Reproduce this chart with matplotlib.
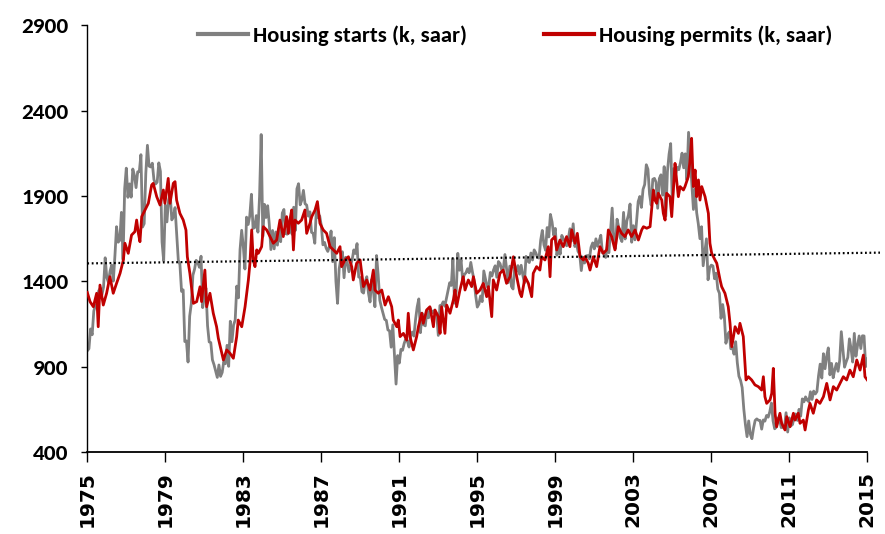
import matplotlib
matplotlib.use("Agg")
import matplotlib.pyplot as plt
from matplotlib import font_manager
from matplotlib.font_manager import FontProperties
from matplotlib.textpath import TextPath
import numpy as np
import os

# ---------------- data ----------------
# Housing starts (k, saar), monthly, first point plotted at the 1975 axis position
starts_k = [
    993, 1005, 1121, 1087, 1226, 1260, 1264, 1344, 1360, 1321,
    1367, 1538, 1421, 1395, 1459, 1495, 1401, 1550, 1720, 1629, 1641, 1804,
    1527, 1943, 2063, 1892, 1971, 1893, 2058, 2020, 1949, 2042, 2042, 2142,
    1718, 1738, 2032, 2197, 2075, 2070, 2092, 1996, 1970, 1981, 2094, 2044,
    1630, 1520, 1847, 1748, 1876, 1913, 1760, 1778, 1832, 1681, 1524, 1498,
    1341, 1350, 1047, 1051, 927, 1196, 1269, 1436, 1471, 1523, 1510, 1482,
    1547, 1246, 1306, 1360, 1140, 1045, 1041, 940, 911, 873, 837, 910,
    843, 866, 931, 917, 1025, 902, 1166, 1046, 1144, 1173, 1372, 1303,
    1586, 1699, 1606, 1472, 1776, 1733, 1785, 1910, 1710, 1715, 1785, 1688,
    1897, 2260, 1663, 1851, 1774, 1843, 1732, 1586, 1698, 1590, 1689, 1612,
    1711, 1632, 1800, 1821, 1680, 1676, 1684, 1743, 1676, 1834, 1698, 1942,
    1972, 1848, 1876, 1933, 1854, 1847, 1782, 1807, 1687, 1681, 1623, 1833,
    1774, 1784, 1726, 1614, 1628, 1594, 1575, 1605, 1695, 1515, 1656, 1400,
    1271, 1473, 1532, 1573, 1421, 1541, 1509, 1456, 1492, 1528, 1584, 1563,
    1621, 1425, 1422, 1339, 1331, 1397, 1427, 1332, 1279, 1410, 1351, 1251,
    1551, 1437, 1289, 1248, 1212, 1177, 1171, 1115, 1110, 1014, 1145, 969,
    798, 965, 921, 1001, 996, 1036, 1063, 1049, 1015, 1079, 1103, 1079,
    1176, 1250, 1297, 1099, 1214, 1145, 1139, 1226, 1186, 1244, 1214, 1227,
    1210, 1210, 1083, 1258, 1260, 1280, 1254, 1300, 1343, 1392, 1376, 1533,
    1272, 1337, 1564, 1465, 1526, 1409, 1439, 1450, 1474, 1450, 1511, 1455,
    1407, 1316, 1249, 1267, 1314, 1281, 1461, 1416, 1369, 1369, 1452, 1431,
    1467, 1491, 1424, 1516, 1504, 1467, 1472, 1557, 1475, 1392, 1489, 1370,
    1355, 1486, 1457, 1492, 1442, 1494, 1437, 1390, 1546, 1520, 1510, 1566,
    1525, 1584, 1567, 1540, 1536, 1641, 1698, 1614, 1582, 1715, 1660, 1792,
    1748, 1670, 1710, 1553, 1611, 1559, 1669, 1648, 1635, 1608, 1648, 1708,
    1636, 1737, 1604, 1626, 1575, 1559, 1463, 1541, 1507, 1549, 1551, 1532,
    1600, 1625, 1590, 1649, 1605, 1636, 1670, 1567, 1562, 1540, 1602, 1568,
    1698, 1829, 1642, 1592, 1764, 1717, 1655, 1633, 1804, 1648, 1753, 1788,
    1853, 1629, 1726, 1643, 1751, 1867, 1897, 1833, 1939, 1967, 2083, 2057,
    1911, 1846, 1998, 2003, 1981, 1828, 2002, 2024, 1905, 2072, 1782, 2042,
    2144, 2207, 1864, 2061, 2025, 2068, 2054, 2095, 2151, 2065, 2147, 1994,
    2273, 2119, 1969, 1821, 1942, 1802, 1737, 1650, 1720, 1491, 1570, 1649,
    1409, 1480, 1495, 1490, 1415, 1448, 1354, 1330, 1183, 1264, 1197, 1037,
    1084, 1103, 1005, 1013, 973, 1046, 923, 844, 820, 777, 652, 560,
    490, 582, 505, 478, 540, 585, 594, 586, 585, 534, 588, 581,
    614, 604, 636, 687, 583, 536, 546, 599, 594, 543, 545, 539,
    630, 517, 600, 554, 561, 608, 623, 585, 650, 610, 711, 694,
    723, 704, 695, 753, 708, 757, 740, 754, 847, 915, 833, 976,
    888, 962, 1010, 852, 919, 835, 883, 919, 873, 936, 1105, 1003,
    897, 928, 954, 1063, 1006, 927, 1095, 961, 1024, 1080, 1006, 1081,
    1080, 900, 944,
]
starts_x0 = 1975.0   # axis position of the first monthly value

# Housing permits (k, saar) as (axis year, value)
permits_year = [
    1975.00, 1975.14, 1975.31, 1975.48, 1975.56, 1975.65, 1975.82, 1975.99,
    1976.16, 1976.33, 1976.50, 1976.68, 1976.85, 1976.93, 1977.10, 1977.27,
    1977.44, 1977.53, 1977.62, 1977.70, 1977.79, 1977.96, 1978.13, 1978.30,
    1978.38, 1978.56, 1978.73, 1978.90, 1978.98, 1979.15, 1979.24, 1979.41,
    1979.50, 1979.58, 1979.75, 1979.92, 1980.06, 1980.13, 1980.26, 1980.44,
    1980.61, 1980.78, 1980.86, 1981.03, 1981.12, 1981.29, 1981.46, 1981.63,
    1981.72, 1981.98, 1982.15, 1982.32, 1982.49, 1982.66, 1982.74, 1982.92,
    1983.09, 1983.26, 1983.34, 1983.43, 1983.51, 1983.60, 1983.69, 1983.77,
    1983.94, 1984.03, 1984.20, 1984.37, 1984.54, 1984.71, 1984.88, 1985.05,
    1985.22, 1985.31, 1985.39, 1985.48, 1985.57, 1985.65, 1985.82, 1985.99,
    1986.16, 1986.25, 1986.42, 1986.51, 1986.68, 1986.80, 1986.93, 1987.10,
    1987.27, 1987.45, 1987.62, 1987.79, 1987.96, 1988.04, 1988.21, 1988.39,
    1988.56, 1988.64, 1988.81, 1988.99, 1989.16, 1989.33, 1989.50, 1989.67,
    1989.75, 1989.92, 1990.10, 1990.27, 1990.44, 1990.61, 1990.69, 1990.87,
    1990.95, 1991.04, 1991.21, 1991.38, 1991.46, 1991.55, 1991.72, 1991.89,
    1991.98, 1992.15, 1992.23, 1992.40, 1992.57, 1992.75, 1992.83, 1993.00,
    1993.09, 1993.17, 1993.34, 1993.43, 1993.60, 1993.77, 1993.86, 1993.94,
    1994.11, 1994.28, 1994.37, 1994.54, 1994.71, 1994.80, 1994.97, 1995.14,
    1995.31, 1995.48, 1995.57, 1995.74, 1995.82, 1995.99, 1996.16, 1996.33,
    1996.50, 1996.68, 1996.85, 1997.02, 1997.19, 1997.27, 1997.45, 1997.62,
    1997.79, 1997.87, 1998.04, 1998.21, 1998.30, 1998.47, 1998.64, 1998.73,
    1998.81, 1998.98, 1999.07, 1999.24, 1999.41, 1999.58, 1999.75, 1999.84,
    2000.01, 2000.13, 2000.27, 2000.44, 2000.52, 2000.69, 2000.78, 2000.95,
    2001.12, 2001.29, 2001.46, 2001.63, 2001.72, 2001.89, 2002.06, 2002.23,
    2002.40, 2002.57, 2002.74, 2002.91, 2003.09, 2003.26, 2003.43, 2003.52,
    2003.69, 2003.86, 2004.03, 2004.11, 2004.20, 2004.28, 2004.46, 2004.54,
    2004.63, 2004.71, 2004.88, 2004.97, 2005.14, 2005.22, 2005.31, 2005.40,
    2005.57, 2005.65, 2005.82, 2005.91, 2005.99, 2006.08, 2006.17, 2006.25,
    2006.34, 2006.42, 2006.51, 2006.68, 2006.85, 2006.93, 2007.02, 2007.19,
    2007.28, 2007.45, 2007.53, 2007.70, 2007.87, 2007.96, 2008.05, 2008.22,
    2008.39, 2008.47, 2008.64, 2008.78, 2008.90, 2009.07, 2009.24, 2009.41,
    2009.58, 2009.67, 2009.75, 2009.84, 2010.01, 2010.10, 2010.18, 2010.27,
    2010.35, 2010.52, 2010.61, 2010.78, 2010.87, 2011.04, 2011.21, 2011.29,
    2011.46, 2011.55, 2011.72, 2011.81, 2011.98, 2012.06, 2012.23, 2012.40,
    2012.57, 2012.75, 2012.92, 2013.09, 2013.26, 2013.43, 2013.60, 2013.77,
    2013.94, 2014.11, 2014.28, 2014.46, 2014.63, 2014.80, 2014.88, 2015.00,
]
permits_k = [
    1335, 1281, 1251, 1330, 1134, 1378, 1261, 1330,
    1427, 1330, 1388, 1447, 1525, 1623, 1564, 1671,
    1691, 1759, 1681, 1632, 1779, 1818, 1857, 1964,
    1974, 1896, 1847, 1935, 1857, 2003, 1857, 1974,
    1984, 1876, 1798, 1759, 1700, 1544, 1447, 1271,
    1281, 1368, 1281, 1466, 1251, 1330, 1213, 1134,
    1066, 939, 998, 978, 949, 1076, 1173, 1134,
    1251, 1408, 1506, 1701, 1525, 1486, 1584, 1564,
    1603, 1720, 1701, 1662, 1623, 1642, 1759, 1662,
    1779, 1681, 1759, 1818, 1584, 1759, 1740, 1759,
    1818, 1681, 1740, 1779, 1818, 1867, 1740, 1701,
    1681, 1603, 1584, 1564, 1603, 1486, 1525, 1544,
    1486, 1408, 1506, 1525, 1369, 1408, 1349, 1466,
    1349, 1330, 1349, 1261, 1310, 1251, 1173, 1134,
    1173, 1076, 1095, 1056, 1213, 1076, 998, 1076,
    1134, 1213, 1154, 1232, 1251, 1134, 1232, 1193,
    1095, 1251, 1095, 1261, 1213, 1290, 1349, 1251,
    1349, 1427, 1349, 1408, 1369, 1427, 1330, 1349,
    1388, 1310, 1369, 1193, 1408, 1349, 1447, 1466,
    1388, 1427, 1544, 1427, 1330, 1310, 1427, 1388,
    1310, 1447, 1486, 1466, 1544, 1525, 1603, 1427,
    1642, 1662, 1584, 1642, 1603, 1662, 1603, 1701,
    1623, 1681, 1544, 1525, 1544, 1506, 1466, 1544,
    1486, 1603, 1564, 1584, 1701, 1662, 1584, 1720,
    1681, 1662, 1701, 1662, 1701, 1642, 1701, 1720,
    1711, 1720, 1935, 1876, 1857, 1916, 1876, 1798,
    1759, 1916, 1896, 1779, 2091, 1994, 1896, 1955,
    1935, 1955, 2013, 2111, 2238, 1955, 2052, 1896,
    1994, 1876, 1955, 1896, 1798, 1623, 1564, 1525,
    1506, 1408, 1369, 1330, 1251, 1154, 1017, 1134,
    1095, 1154, 1076, 822, 841, 822, 793, 783,
    763, 841, 724, 685, 705, 744, 890, 627,
    548, 627, 568, 529, 607, 548, 627, 587,
    627, 568, 587, 529, 646, 685, 627, 705,
    685, 724, 802, 705, 783, 763, 802, 841,
    822, 880, 841, 939, 880, 968, 841, 822,
]

# Dotted reference line: endpoints
trend_year = [1975.0, 2015.65]
trend_k = [1505, 1568]

tick_years = [1975, 1979, 1983, 1987, 1991, 1995, 1999, 2003, 2007, 2011, 2015]
y_ticks = [400, 900, 1400, 1900, 2400, 2900]

labels = ["Housing starts (k, saar)", "Housing permits (k, saar)"]
gray = "#808080"
red = "#C00000"

# ---------------- fonts: a narrow humanist bold face ----------------
def find_font():
    files = [f.fname for f in font_manager.fontManager.ttflist]
    prefs = ["Carlito-Bold.", "FiraSansCondensed-Bold.", "BarlowSemiCondensed-Bold.",
             "AsapCondensed-Bold.", "DejaVuSansCondensed-Bold."]
    for p in prefs:
        for fn in files:
            if os.path.basename(fn).startswith(p):
                return FontProperties(fname=fn)
    return FontProperties(family="DejaVu Sans", weight="bold")

base_fp = find_font()

def size_for_width(text, target_px):
    w = TextPath((0, 0), text, size=100, prop=base_fp).get_extents().width  # points at size 100
    return 100 * (target_px * 0.72) / w

ytick_size = size_for_width("2900", 46)
leg_size = size_for_width(labels[0], 212)

# ---------------- plot ----------------
fig = plt.figure(figsize=(8.85, 5.34), dpi=100)
ax = fig.add_axes([87.3 / 885, 1 - 452 / 534, (867.3 - 87.3) / 885, (452 - 25.3) / 534])

sx = starts_x0 + np.arange(len(starts_k)) / 12.0
ax.plot(sx, starts_k, color=gray, lw=2.0, label=labels[0], zorder=2, solid_joinstyle="round")
ax.plot(permits_year, permits_k, color=red, lw=2.0, label=labels[1], zorder=3, solid_joinstyle="round")
ax.plot(trend_year, trend_k, color="black", lw=1.6, linestyle=(0, (0.8, 1.2)),
        zorder=4, clip_on=False)

ax.set_xlim(1975, 2015)
ax.set_ylim(400, 2900)
ax.set_xticks(tick_years)
ax.set_xticklabels([str(y) for y in tick_years], rotation=90, fontfamily="DejaVu Sans",
                   fontweight="bold", fontsize=14.5)
ax.set_yticks(y_ticks)
ax.set_yticklabels([str(v) for v in y_ticks])
for t in ax.get_yticklabels():
    fp = base_fp.copy()
    fp.set_size(ytick_size)
    t.set_fontproperties(fp)

for s in ["top", "right"]:
    ax.spines[s].set_visible(False)
ax.spines["left"].set_linewidth(1.0)
ax.spines["bottom"].set_linewidth(1.3)
ax.tick_params(axis="x", direction="out", length=7, width=1.0, pad=7)
ax.tick_params(axis="y", direction="out", length=4.5, width=1.0, pad=9)

lp = base_fp.copy()
lp.set_size(leg_size)
leg = fig.legend(loc="center left", bbox_to_anchor=(198 / 885, 1 - 36 / 534), ncol=2,
                 frameon=False, borderpad=0, borderaxespad=0,
                 handlelength=36 / leg_size, handletextpad=3.6 / leg_size,
                 columnspacing=55.4 / leg_size, prop=lp)
for h in leg.get_lines():
    h.set_linewidth(3)

fig.savefig("out.png", dpi=100)
